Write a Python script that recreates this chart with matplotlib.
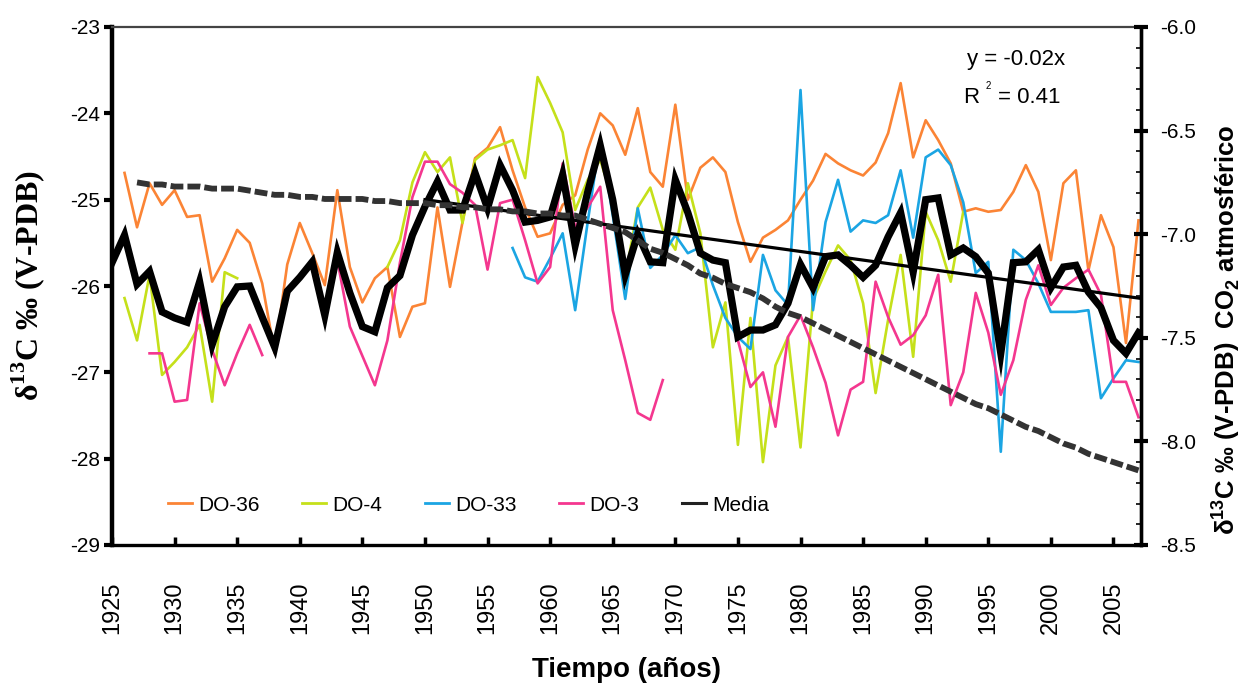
import numpy as np
import matplotlib
matplotlib.use('Agg')
import matplotlib.pyplot as plt
from matplotlib.lines import Line2D
from matplotlib.ticker import MultipleLocator, FormatStrFormatter

plt.rcParams['font.family'] = ['Liberation Sans', 'DejaVu Sans']
plt.rcParams['axes.unicode_minus'] = False
plt.rcParams['mathtext.fontset'] = 'custom'
plt.rcParams['mathtext.rm'] = 'Liberation Serif:bold'
plt.rcParams['mathtext.sf'] = 'Liberation Sans:bold'

nan = np.nan

# media de los anillos (eje izquierdo)
mean_years = np.arange(1925, 2008)
mean_d13c = [-25.73, -25.41, -25.98, -25.83, -26.30, -26.37, -26.42, -25.95, -26.68, -26.24,
             -26.01, -26.00, -26.36, -26.71, -26.06, -25.90, -25.72, -26.34, -25.61, -26.08,
             -26.47, -26.53, -26.02, -25.88, -25.41, -25.08, -24.79, -25.12, -25.12, -24.69,
             -25.10, -24.60, -24.89, -25.26, -25.24, -25.20, -24.71, -25.53, -24.91, -24.37,
             -25.00, -25.87, -25.40, -25.72, -25.73, -24.77, -25.15, -25.62, -25.70, -25.73,
             -26.59, -26.51, -26.51, -26.45, -26.20, -25.75, -26.02, -25.66, -25.64, -25.76,
             -25.90, -25.76, -25.43, -25.15, -25.84, -25.00, -24.98, -25.64, -25.56, -25.66,
             -25.85, -26.78, -25.73, -25.72, -25.58, -26.02, -25.78, -25.76, -26.07, -26.25,
             -26.63, -26.78, -26.54]

do36_years = np.arange(1926, 2008)
do36 = [-24.69, -25.32, -24.81, -25.06, -24.89, -25.20, -25.18, -25.95, -25.68, -25.35,
        -25.50, -25.97, -26.78, -25.75, -25.27, -25.62, -25.99, -24.89, -25.78, -26.19,
        -25.91, -25.78, -26.59, -26.24, -26.20, -25.09, -26.01, -25.26, -24.52, -24.40,
        -24.16, -24.66, -25.09, -25.43, -25.39, -25.06, -24.95, -24.42, -24.00, -24.14,
        -24.48, -23.94, -24.68, -24.85, -23.90, -25.00, -24.63, -24.51, -24.68, -25.26,
        -25.72, -25.44, -25.35, -25.24, -25.00, -24.78, -24.47, -24.58, -24.66, -24.72,
        -24.57, -24.23, -23.65, -24.51, -24.08, -24.31, -24.58, -25.14, -25.10, -25.14,
        -25.12, -24.91, -24.60, -24.91, -25.70, -24.81, -24.66, -25.82, -25.18, -25.55,
        -26.66, -25.24]

do4_years = np.arange(1926, 1994)
do4 = [-26.14, -26.63, -25.87, -27.03, -26.88, -26.71, -26.45, -27.34, -25.84, -25.91,
       nan, nan, nan, nan, nan, nan, nan, nan, nan, nan, nan,
       -25.78, -25.47, -24.80, -24.45, -24.68, -24.51, -25.27, -24.54, -24.42, -24.37,
       -24.31, -24.75, -23.58, -23.88, -24.22, -25.12, -24.77, -24.54, -25.00, -25.90,
       -25.09, -24.86, -25.35, -25.58, -24.81, -25.39, -26.71, -26.19, -27.84, -26.37,
       -28.04, -26.92, -26.59, -27.87, -26.16, -25.83, -25.53, -25.70, -26.20, -27.24,
       -26.39, -25.64, -26.82, -25.14, -25.47, -25.95, -25.14]

do33_years = np.arange(1957, 2008)
do33 = [-25.56, -25.90, -25.95, -25.68, -25.39, -26.28, -25.26, -24.29, -25.18, -26.15,
        -25.10, -25.79, -25.64, -25.41, -25.62, -25.55, -25.99, -26.37, -26.59, -26.73,
        -25.64, -26.05, -26.22, -23.73, -26.28, -25.26, -24.77, -25.37, -25.24, -25.27,
        -25.18, -24.66, -25.44, -24.51, -24.42, -24.60, -25.03, -25.85, -25.72, -27.92,
        -25.58, -25.70, -25.97, -26.30, -26.30, -26.30, -26.28, -27.30, -27.07, -26.86,
        -26.88]

do3_years = np.arange(1928, 2008)
do3 = [-26.78, -26.78, -27.34, -27.32, -26.20, -26.74, -27.15, -26.78, -26.45, -26.80,
       nan, nan, nan, nan, nan,
       -25.70, -26.47, -26.81, -27.15, -26.63, -25.73, -24.97, -24.56, -24.56, -24.82,
       -24.92, -25.06, -25.81, -25.04, -25.00, -25.47, -25.97, -25.78, -24.58, -25.32,
       -25.09, -24.85, -26.28, -26.86, -27.47, -27.55, -27.09,
       nan, nan, nan, nan, nan,
       -26.63, -27.17, -27.00, -27.63, -26.59, -26.34, -26.71, -27.12, -27.73, -27.20,
       -27.11, -25.95, -26.36, -26.68, -26.57, -26.34, -25.87, -27.38, -27.00, -26.08,
       -26.54, -27.26, -26.86, -26.16, -25.76, -26.22, -26.02, -25.91, -25.81, -26.10,
       -27.11, -27.11, -27.52]

# CO2 atmosferico (eje derecho)
co2_years = np.arange(1927, 2008)
co2_d13c = [-6.75, -6.76, -6.76, -6.77, -6.77, -6.77, -6.78, -6.78, -6.78, -6.79,
            -6.80, -6.81, -6.81, -6.82, -6.82, -6.83, -6.83, -6.83, -6.83, -6.84,
            -6.84, -6.85, -6.85, -6.85, -6.86, -6.86, -6.87, -6.87, -6.88, -6.88,
            -6.89, -6.89, -6.90, -6.90, -6.91, -6.91, -6.93, -6.95, -6.97, -6.99,
            -7.03, -7.07, -7.09, -7.12, -7.15, -7.19, -7.21, -7.24, -7.26, -7.28,
            -7.31, -7.35, -7.38, -7.40, -7.43, -7.46, -7.49, -7.52, -7.55, -7.58,
            -7.61, -7.64, -7.67, -7.70, -7.73, -7.76, -7.79, -7.82, -7.84, -7.87,
            -7.90, -7.93, -7.95, -7.98, -8.01, -8.03, -8.06, -8.08, -8.10, -8.12,
            -8.14]

# tendencia lineal de la media
trend_slope = -0.02
trend_r2 = 0.41
trend_years = np.array([1950, 2007.2])
trend_start = -25.0

series = [('DO-36', do36_years, do36, '#FB8435'),
          ('DO-4', do4_years, do4, '#C5E01A'),
          ('DO-33', do33_years, do33, '#1BA5E3'),
          ('DO-3', do3_years, do3, '#F4378F')]

fig = plt.figure(figsize=(12.45, 6.86), dpi=100)
ax = fig.add_axes([112 / 1245, 1 - 545 / 686, (1141 - 112) / 1245, (545 - 27) / 686])

for name, yrs, vals, col in series:
    ax.plot(yrs, vals, color=col, lw=1.9, zorder=2)

ax.plot(mean_years, mean_d13c, color='black', lw=5.2, solid_joinstyle='miter', zorder=3)
trend_vals = trend_start + trend_slope * (trend_years - trend_years[0])
ax.plot(trend_years, trend_vals, color='black', lw=2.3, zorder=4)

ax.set_xlim(1925, 2007.2)
ax.set_ylim(-29, -23)
ax.set_xticks(np.arange(1925, 2006, 5))
ax.set_yticks(np.arange(-29, -22, 1))
ax.tick_params(axis='x', direction='in', length=6, width=2.5, pad=26, labelsize=17,
               labelrotation=90)
ax.tick_params(axis='y', direction='out', length=6, width=3, pad=2.5, labelsize=15)

for side, lw in [('left', 3.2), ('bottom', 2.4), ('right', 2.4), ('top', 1.6)]:
    ax.spines[side].set_linewidth(lw)
ax.spines['top'].set_color('#444444')

ax2 = ax.twinx()
ax2.plot(co2_years, co2_d13c, color='#333333', lw=4.2, dashes=(2.2, 0.7), zorder=5)
ax2.set_ylim(-8.5, -6.0)
ax2.yaxis.set_major_locator(MultipleLocator(0.5))
ax2.yaxis.set_minor_locator(MultipleLocator(0.1))
ax2.yaxis.set_major_formatter(FormatStrFormatter('%.1f'))
ax2.tick_params(axis='y', which='major', direction='inout', length=10, width=3, pad=8.5,
                labelsize=15)
ax2.tick_params(axis='y', which='minor', direction='in', length=3.5, width=1.2)
ax2.spines['right'].set_linewidth(2.4)
for side in ['left', 'bottom', 'top']:
    ax2.spines[side].set_visible(False)

handles = [Line2D([], [], color=c, lw=2) for _, _, _, c in series]
handles.append(Line2D([], [], color='#222222', lw=2.2))
labels = [s[0] for s in series] + ['Media']
ax2.legend(handles, labels, loc='center left', bbox_to_anchor=(0.054, 0.077), ncol=5,
           frameon=False, fontsize=15, handlelength=1.15, handletextpad=0.3,
           columnspacing=2.05, borderpad=0, borderaxespad=0)

ax2.text(0.831, 0.927, 'y = %.2fx' % trend_slope, transform=ax.transAxes, fontsize=16,
         ha='left', va='baseline')
ax2.text(0.827, 0.853, 'R', transform=ax.transAxes, fontsize=16, ha='left', va='baseline')
ax2.text(0.849, 0.880, '2', transform=ax.transAxes, fontsize=7, ha='left', va='baseline')
ax2.text(0.861, 0.853, '= %.2f' % trend_r2, transform=ax.transAxes, fontsize=16,
         ha='left', va='baseline')

fig.text(28 / 1245, 1 - 285 / 686, 'δ$^{13}$C ‰ (V-PDB)', rotation=90, ha='center',
         va='center', fontsize=23, fontweight='bold', family='Liberation Serif')
fig.text(1226 / 1245, 1 - 330 / 686,
         'δ$^{\\mathsf{13}}$C ‰ (V-PDB)  CO$_{\\mathsf{2}}$ atmosférico',
         rotation=90, ha='center', va='center', fontsize=18.5, fontweight='bold')
fig.text(627 / 1245, 1 - 670 / 686, 'Tiempo (años)', ha='center', va='center',
         fontsize=20, fontweight='bold')

fig.savefig('out.png', dpi=100)
